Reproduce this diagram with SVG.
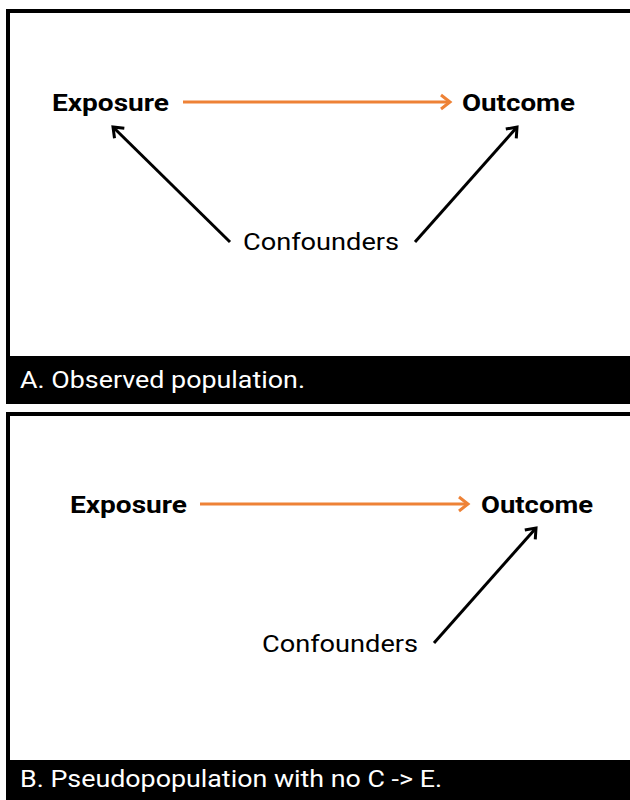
<svg xmlns="http://www.w3.org/2000/svg" width="630" height="800" viewBox="0 0 630 800">
<defs>
<style>
.frame{fill:#fff;stroke:#000;stroke-width:4}
.bar{fill:#000}
.cap{font-family:Roboto,"Liberation Sans",sans-serif;font-size:23px;fill:#fff}
.bold{font-family:Roboto,"Liberation Sans",sans-serif;font-size:24px;font-weight:bold;fill:#000}
.reg{font-family:Roboto,"Liberation Sans",sans-serif;font-size:24px;fill:#000}
.ea{stroke:#ee8236;stroke-width:3;fill:none}
.ca{stroke:#000;stroke-width:3;fill:none}
</style>
<marker id="ho" markerUnits="userSpaceOnUse" markerWidth="20" markerHeight="20" viewBox="-12 -10 14 20" refX="0" refY="0" orient="auto">
<path d="M-9,-7 L0,0 L-9,7" fill="none" stroke="#ee8236" stroke-width="3"/>
</marker>
<marker id="hb" markerUnits="userSpaceOnUse" markerWidth="20" markerHeight="20" viewBox="-12 -10 14 20" refX="0" refY="0" orient="auto">
<path d="M-9,-7 L0,0 L-9,7" fill="none" stroke="#000" stroke-width="3"/>
</marker>
</defs>
<rect width="630" height="800" fill="#fff"/>
<g id="panelA">
<rect class="frame" x="8" y="11" width="640" height="391"/>
<rect class="bar" x="6" y="356" width="630" height="46"/>
<text class="cap" x="20" y="388" textLength="285" lengthAdjust="spacingAndGlyphs">A. Observed population.</text>
</g>
<g id="panelB">
<rect class="frame" x="8" y="414" width="640" height="400"/>
<rect class="bar" x="6" y="760" width="630" height="40"/>
<text class="cap" x="20" y="787" textLength="422" lengthAdjust="spacingAndGlyphs">B. Pseudopopulation with no C -&gt; E.</text>
</g>
<g id="A-exposure"><text class="bold" x="52" y="111" textLength="117" lengthAdjust="spacingAndGlyphs">Exposure</text></g>
<g id="A-outcome"><text class="bold" x="462" y="111" textLength="113" lengthAdjust="spacingAndGlyphs">Outcome</text></g>
<g id="A-confounders"><text class="reg" x="243" y="250" textLength="156" lengthAdjust="spacingAndGlyphs">Confounders</text></g>
<g id="B-exposure"><text class="bold" x="70" y="513" textLength="117" lengthAdjust="spacingAndGlyphs">Exposure</text></g>
<g id="B-outcome"><text class="bold" x="481" y="513" textLength="112" lengthAdjust="spacingAndGlyphs">Outcome</text></g>
<g id="B-confounders"><text class="reg" x="262" y="652" textLength="156" lengthAdjust="spacingAndGlyphs">Confounders</text></g>
<g id="connectors">
<line class="ea" x1="183" y1="102" x2="450" y2="102" marker-end="url(#ho)"/>
<line class="ca" x1="230" y1="242" x2="113" y2="127" marker-end="url(#hb)"/>
<line class="ca" x1="415" y1="242" x2="517" y2="127" marker-end="url(#hb)"/>
<line class="ea" x1="200" y1="504" x2="468" y2="504" marker-end="url(#ho)"/>
<line class="ca" x1="434" y1="643" x2="536" y2="528" marker-end="url(#hb)"/>
</g>
</svg>
